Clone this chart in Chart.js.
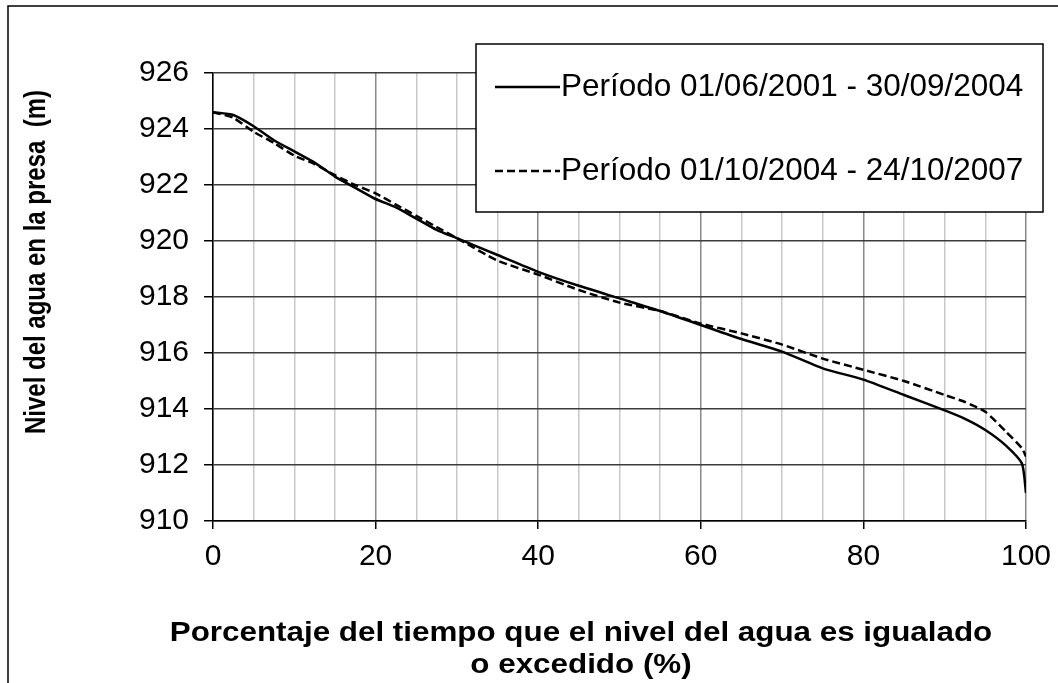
<!DOCTYPE html>
<html>
<head>
<meta charset="utf-8">
<script src="https://cdn.jsdelivr.net/npm/chart.js@4/dist/chart.umd.min.js"></script>
<style>
  html, body { margin: 0; padding: 0; background: #fff; }
  canvas { display: block; }
</style>
</head>
<body>
<canvas id="curva" width="1058" height="683"></canvas>
<script>
// Curva de duración de niveles de la presa
const pct = [0, 2.5, 5, 7.5, 10, 12.5, 15, 17.5, 20, 22.5, 25, 27.5, 30, 35, 40, 45, 50,
             55, 60, 65, 70, 75, 80, 85, 90, 92.5, 95, 97.5, 99.5, 100];
const nivel2001 = [924.6, 924.5, 924.1, 923.6, 923.2, 922.8, 922.3, 921.9, 921.5, 921.2, 920.8,
                   920.4, 920.1, 919.5, 918.9, 918.4, 917.95, 917.5, 917.0, 916.5, 916.05,
                   915.45, 915.05, 914.5, 913.95, 913.65, 913.25, 912.7, 912.05, 911.0];
const nivel2004 = [924.6, 924.4, 923.9, 923.5, 923.05, 922.75, 922.35, 922.0, 921.7, 921.3, 920.9,
                   920.5, 920.1, 919.3, 918.8, 918.25, 917.8, 917.5, 917.05, 916.7, 916.3,
                   915.8, 915.4, 915.0, 914.5, 914.25, 913.9, 913.2, 912.6, 912.3];
const periodos = ['Período 01/06/2001 - 30/09/2004', 'Período 01/10/2004 - 24/10/2007'];
const tituloY = 'Nivel del agua en la presa  (m)';
const tituloX = ['Porcentaje del tiempo que el nivel del agua es igualado', 'o excedido (%)'];

const FONT = '"Liberation Sans", Arial, sans-serif';

const toPoints = (ys) => ys.map((y, i) => ({ x: pct[i], y: y }));

// titles, legend box and outer frame
const decoPlugin = {
    id: 'deco',
    afterDraw(chart) {
        const ctx = chart.ctx;
        ctx.save();

        // outer frame (left and top edges)
        ctx.strokeStyle = '#000';
        ctx.lineWidth = 1.5;
        ctx.beginPath();
        ctx.moveTo(8, 683);
        ctx.lineTo(8, 6);
        ctx.lineTo(1058, 6);
        ctx.stroke();

        // axis titles (slightly wide lettering)
        ctx.fillStyle = '#000';
        ctx.textAlign = 'center';
        ctx.textBaseline = 'middle';
        ctx.save();
        ctx.translate(37, 262);
        ctx.rotate(-Math.PI / 2);
        ctx.scale(1, 1.22);
        ctx.font = 'bold 24px ' + FONT;
        ctx.fillText(tituloY, 0, 0);
        ctx.restore();

        ctx.save();
        ctx.translate(581, 0);
        ctx.scale(1.12, 1);
        ctx.font = 'bold 28px ' + FONT;
        ctx.fillText(tituloX[0], 0, 633);
        ctx.fillText(tituloX[1], 0, 665);
        ctx.restore();

        // legend
        const box = { x: 476, y: 44, w: 567, h: 168 };
        ctx.fillStyle = '#fff';
        ctx.fillRect(box.x, box.y, box.w, box.h);
        ctx.strokeStyle = '#000';
        ctx.lineWidth = 1.5;
        ctx.strokeRect(box.x, box.y, box.w, box.h);

        const rows = [87, 171];
        chart.data.datasets.forEach((ds, i) => {
            ctx.strokeStyle = ds.borderColor;
            ctx.lineWidth = ds.borderWidth;
            ctx.setLineDash(ds.borderDash || []);
            ctx.beginPath();
            ctx.moveTo(495, rows[i]);
            ctx.lineTo(560, rows[i]);
            ctx.stroke();
            ctx.setLineDash([]);
            ctx.fillStyle = '#000';
            ctx.font = '31.5px ' + FONT;
            ctx.textAlign = 'left';
            ctx.fillText(ds.label, 561, rows[i]);
        });
        ctx.restore();
    }
};

new Chart(document.getElementById('curva'), {
    type: 'line',
    data: {
        datasets: [{
            label: periodos[0],
            data: toPoints(nivel2001),
            borderColor: '#000',
            borderWidth: 2.5,
            pointRadius: 0,
            tension: 0.2
        }, {
            label: periodos[1],
            data: toPoints(nivel2004),
            borderColor: '#000',
            borderWidth: 2.5,
            borderDash: [8, 4],
            pointRadius: 0,
            tension: 0.2
        }]
    },
    options: {
        responsive: false,
        animation: false,
        layout: { padding: { top: 73, right: 32, left: 0, bottom: 0 } },
        plugins: {
            legend: { display: false },
            tooltip: { enabled: false }
        },
        scales: {
            x: {
                type: 'linear',
                min: 0,
                max: 100,
                afterFit: (scale) => {
                    scale.height = 162;
                    scale.paddingLeft = 0;
                    scale.paddingRight = 0;
                },
                grid: {
                    color: (c) => c.tick && c.tick.value % 20 === 0 ? '#888' : '#c8c8c8',
                    lineWidth: 1.5,
                    tickLength: 8,
                    tickColor: (c) => c.tick && c.tick.value % 20 === 0 ? '#000' : 'rgba(0,0,0,0)'
                },
                border: { color: '#000', width: 1.5 },
                ticks: {
                    stepSize: 5,
                    autoSkip: false,
                    maxRotation: 0,
                    padding: 10,
                    color: '#000',
                    font: { family: FONT, size: 30 },
                    callback: (v) => v % 20 === 0 ? v : ''
                }
            },
            y: {
                min: 910,
                max: 926,
                afterFit: (scale) => { scale.width = 213; },
                grid: {
                    color: '#3c3c3c',
                    lineWidth: 1.5,
                    tickLength: 9,
                    tickColor: '#000'
                },
                border: { color: '#000', width: 1.5 },
                ticks: {
                    stepSize: 2,
                    padding: 15,
                    color: '#000',
                    font: { family: FONT, size: 30 }
                }
            }
        }
    },
    plugins: [decoPlugin]
});
</script>
</body>
</html>
